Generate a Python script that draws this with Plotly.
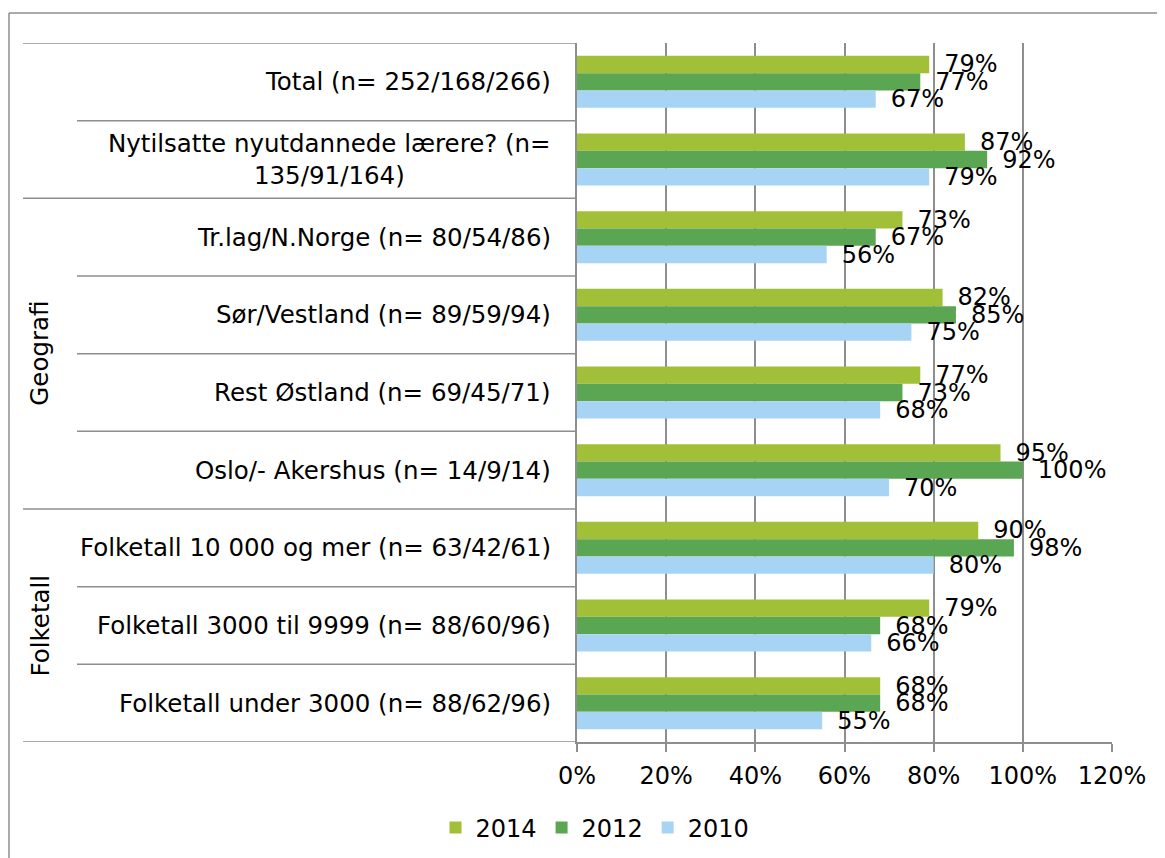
import plotly.graph_objects as go

# ---- data ----
categories = [
    "Total (n= 252/168/266)",
    "Nytilsatte nyutdannede lærere? (n=<br>135/91/164)",
    "Tr.lag/N.Norge (n= 80/54/86)",
    "Sør/Vestland (n= 89/59/94)",
    "Rest Østland (n= 69/45/71)",
    "Oslo/- Akershus (n= 14/9/14)",
    "Folketall 10 000 og mer (n= 63/42/61)",
    "Folketall 3000 til 9999 (n= 88/60/96)",
    "Folketall under 3000 (n= 88/62/96)",
]
series_names = ["2014", "2012", "2010"]
values_2014 = [79, 87, 73, 82, 77, 95, 90, 79, 68]
values_2012 = [77, 92, 67, 85, 73, 100, 98, 68, 68]
values_2010 = [67, 79, 56, 75, 68, 70, 80, 66, 55]
groups = [("Geografi", 2, 5), ("Folketall", 6, 8)]
x_ticks = [0, 20, 40, 60, 80, 100, 120]
x_tick_labels = ["0%", "20%", "40%", "60%", "80%", "100%", "120%"]

# ---- style ----
colors = ["#a2c037", "#5ba653", "#a7d3f4"]
grid = "#8e8e8e"
FONT = "DejaVu Sans, Verdana, sans-serif"
OFF = 8  # page body margin
W, H = 1165 - OFF, 858 - OFF
L, R, T, B = 577 - OFF, 53, 43 - OFF, 858 - 742
PW = W - L - R
PH = H - T - B

def page_x(px):
    return (px - OFF - L) / PW

def page_y(py):
    return 1 - (py - OFF - T) / PH

fig = go.Figure()
for name, vals, col in zip(series_names, [values_2014, values_2012, values_2010], colors):
    fig.add_trace(go.Bar(
        name=name, y=categories, x=vals, orientation="h",
        marker=dict(color=col, line=dict(width=0)),
        text=[f"{v}%" for v in vals], texttemplate="\u2002%{text}", textposition="outside",
        constraintext="none", cliponaxis=False,
        textfont=dict(family=FONT, size=24, color="black"),
    ))

shapes = []
n = len(categories)
group_bounds = {-0.5, n - 0.5}
for _, a, b in groups:
    group_bounds.add(a - 0.5)
    group_bounds.add(b + 0.5)
for i in range(n + 1):
    yv = i - 0.5
    x0 = page_x(23) if yv in group_bounds else page_x(77)
    shapes.append(dict(type="line", xref="paper", yref="y", x0=x0, x1=0, y0=yv, y1=yv,
                       line=dict(color=grid, width=1.5)))
# outer chart border
shapes.append(dict(type="line", xref="paper", yref="paper",
                   x0=page_x(9), x1=page_x(1200), y0=page_y(13), y1=page_y(13),
                   line=dict(color=grid, width=1.5)))
shapes.append(dict(type="line", xref="paper", yref="paper",
                   x0=page_x(9), x1=page_x(9), y0=page_y(13), y1=page_y(900),
                   line=dict(color=grid, width=1.5)))

annotations = []
for c in categories:
    annotations.append(dict(xref="paper", yref="y", x=0, y=c, xanchor="right", yanchor="middle",
                            xshift=-24, text=c, showarrow=False, align="center",
                            font=dict(family=FONT, size=24.5, color="black")))
for gname, a, b in groups:
    annotations.append(dict(xref="paper", yref="y", x=page_x(40), y=(a + b) / 2,
                            xanchor="center", yanchor="middle", text=gname, textangle=-90,
                            showarrow=False, font=dict(family=FONT, size=24.5, color="black")))

fig.update_layout(
    width=W, height=H,
    margin=dict(l=L, r=R, t=T, b=B),
    paper_bgcolor="white", plot_bgcolor="white",
    barmode="group", bargap=0.33, bargroupgap=0,
    font=dict(family=FONT, size=24, color="black"),
    shapes=shapes, annotations=annotations,
    legend=dict(orientation="h", xref="container", yref="container",
                x=(595 - OFF) / W, xanchor="center", y=1 - (828 - OFF) / H, yanchor="middle",
                font=dict(family=FONT, size=24, color="black"),
                traceorder="normal"),
    xaxis=dict(range=[0, 120], tickvals=x_ticks, ticktext=x_tick_labels,
               showgrid=True, gridcolor=grid, gridwidth=1.5,
               showline=True, linecolor=grid, linewidth=1.5,
               ticks="outside", ticklen=8, tickcolor=grid, tickwidth=1.5,
               zeroline=False, automargin=False, ticklabelstandoff=3,
               tickfont=dict(family=FONT, size=24, color="black")),
    yaxis=dict(categoryorder="array", categoryarray=categories,
               range=[n - 0.5, -0.5], showticklabels=False,
               showgrid=False, zeroline=False, showline=True,
               linecolor=grid, linewidth=1.5, ticks="", automargin=False),
)

fig.write_html("out.html")
